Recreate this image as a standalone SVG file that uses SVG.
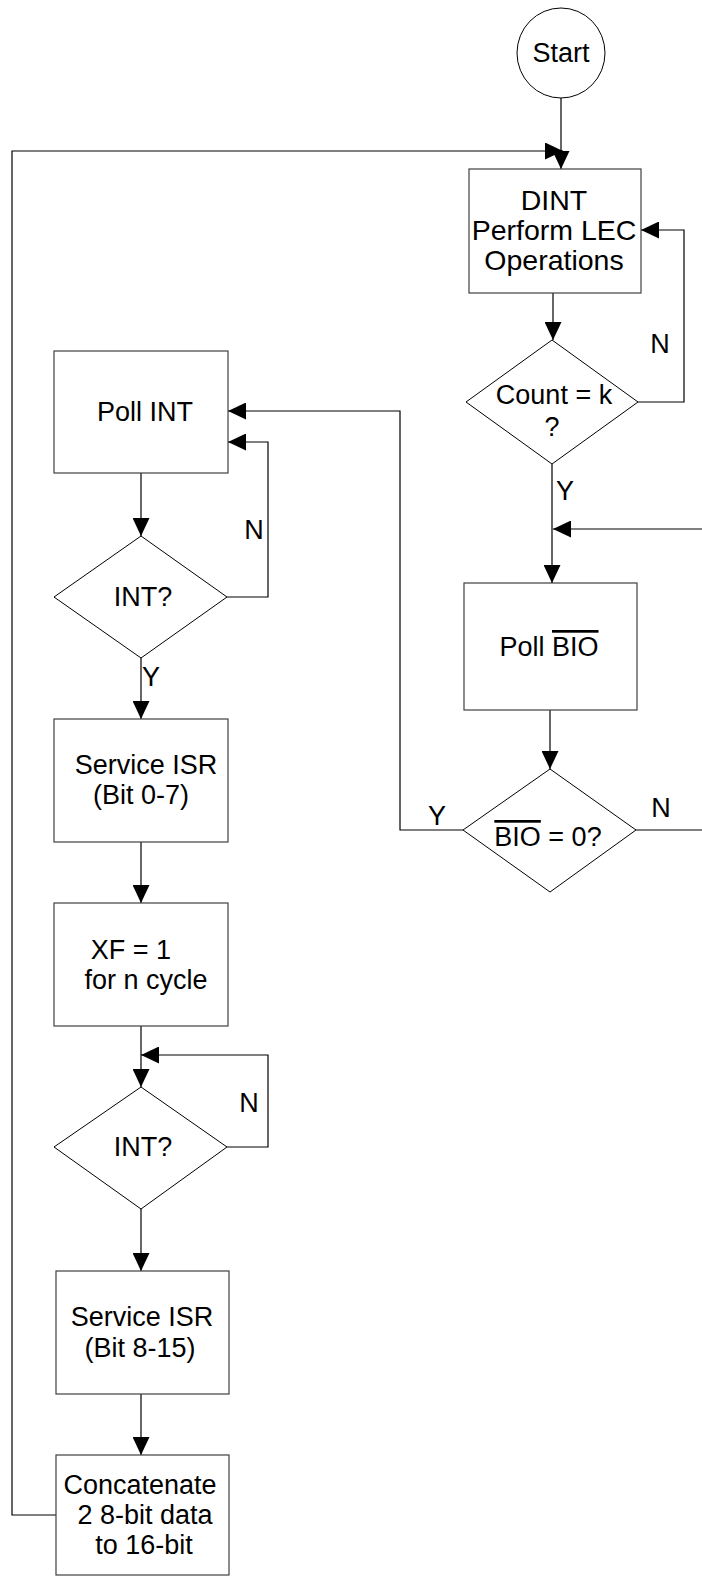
<svg xmlns="http://www.w3.org/2000/svg" width="702" height="1576" viewBox="0 0 702 1576">
<style>
.box{fill:#fff;stroke:#404040;stroke-width:1.2}
.dia{fill:#fff;stroke:#000;stroke-width:1}
.ln{fill:none;stroke:#000;stroke-width:1.2}
.lnh{fill:none;stroke:#000;stroke-width:1.2;marker-end:url(#ah)}
text{font-family:"Liberation Sans",Arial,sans-serif;font-size:27px;fill:#000;text-anchor:middle;dominant-baseline:central}
.big{font-size:28.5px}
.ov{text-decoration:overline}
</style>
<defs>
<marker id="ah" viewBox="0 0 18 17" refX="18" refY="8.5" markerWidth="18" markerHeight="17" markerUnits="userSpaceOnUse" orient="auto">
<path d="M0,0 L18,8.5 L0,17 z" fill="#000"/>
</marker>
</defs>
<g id="connectors">
<path class="lnh" d="M561,98 L561,169"/>
<path class="lnh" d="M56,1515 L12,1515 L12,151 L563,151"/>
<path class="lnh" d="M553,293 L553,340"/>
<path class="lnh" d="M638,402 L684,402 L684,230 L641,230"/>
<path class="ln" d="M552,464 L552,529"/>
<path class="lnh" d="M552,529 L552,583"/>
<path class="lnh" d="M702,529 L553,529"/>
<path class="lnh" d="M550,710 L550,769"/>
<path class="lnh" d="M463,830 L400,830 L400,411 L228,411"/>
<path class="ln" d="M636,830 L702,830"/>
<path class="lnh" d="M141,473 L141,536"/>
<path class="lnh" d="M227,597 L268,597 L268,442 L228,442"/>
<path class="lnh" d="M141,658 L141,719"/>
<path class="lnh" d="M141,842 L141,903"/>
<path class="ln" d="M141,1026 L141,1055"/>
<path class="lnh" d="M141,1055 L141,1087"/>
<path class="lnh" d="M227,1147 L268,1147 L268,1055 L141,1055"/>
<path class="lnh" d="M141,1209 L141,1271"/>
<path class="lnh" d="M141,1394 L141,1455"/>
<text x="565" y="491">Y</text>
<text x="660" y="344">N</text>
<text x="437" y="816">Y</text>
<text x="661" y="808">N</text>
<text x="254" y="530">N</text>
<text x="151" y="677">Y</text>
<text x="249" y="1103">N</text>
</g>
<g id="start">
<ellipse cx="561" cy="53" rx="44" ry="45" class="dia"/>
<text x="561" y="53">Start</text>
</g>
<g id="dint">
<rect x="469" y="169" width="172" height="124" class="box"/>
<text class="big" x="554" y="200">DINT</text>
<text class="big" x="554" y="230">Perform LEC</text>
<text class="big" x="554" y="260">Operations</text>
</g>
<g id="count">
<polygon points="552,340 638,402 552,464 466,402" class="dia"/>
<text x="554" y="395">Count = k</text>
<text x="552" y="427">?</text>
</g>
<g id="pollbio">
<rect x="464" y="583" width="173" height="127" class="box"/>
<text x="549" y="647">Poll <tspan class="ov">BIO</tspan></text>
</g>
<g id="bio">
<polygon points="550,769 636,830 550,892 463,830" class="dia"/>
<text x="548" y="837"><tspan class="ov">BIO</tspan> = 0?</text>
</g>
<g id="pollint">
<rect x="54" y="351" width="174" height="122" class="box"/>
<text x="145" y="412">Poll INT</text>
</g>
<g id="int1">
<polygon points="141,536 227,597 141,658 54,597" class="dia"/>
<text x="143" y="597">INT?</text>
</g>
<g id="isr1">
<rect x="54" y="719" width="174" height="123" class="box"/>
<text x="146" y="765">Service ISR</text>
<text x="141" y="795">(Bit 0-7)</text>
</g>
<g id="xf">
<rect x="54" y="903" width="174" height="123" class="box"/>
<text x="131" y="950">XF = 1</text>
<text x="146" y="980">for n cycle</text>
</g>
<g id="int2">
<polygon points="141,1087 227,1147 141,1209 54,1147" class="dia"/>
<text x="143" y="1147">INT?</text>
</g>
<g id="isr2">
<rect x="56" y="1271" width="173" height="123" class="box"/>
<text x="142" y="1317">Service ISR</text>
<text x="140" y="1348">(Bit 8-15)</text>
</g>
<g id="concat">
<rect x="56" y="1455" width="173" height="120" class="box"/>
<text x="140" y="1485">Concatenate</text>
<text x="145" y="1515">2 8-bit data</text>
<text x="144" y="1545">to 16-bit</text>
</g>
</svg>
